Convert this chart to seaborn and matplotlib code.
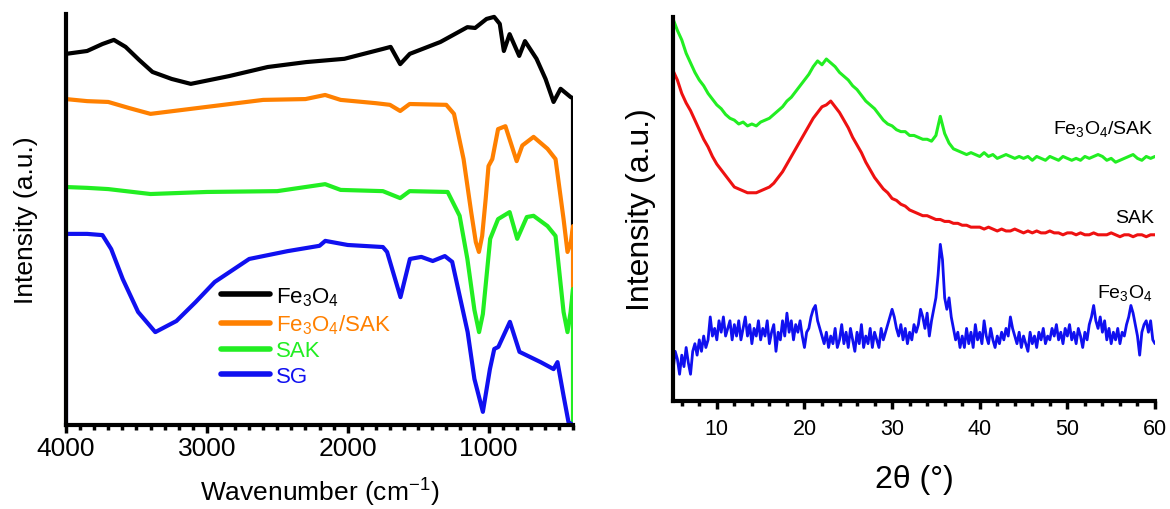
import numpy as np
import matplotlib
matplotlib.use('Agg')
import matplotlib.pyplot as plt
from matplotlib.ticker import MultipleLocator
import seaborn as sns

# ---- FTIR (left panel), wavenumber cm-1 vs offset intensity (a.u.) ----
fe3o4_wn = [4000, 3850, 3741, 3660, 3577, 3480, 3386, 3250, 3114, 2841, 2568, 2295, 2023, 1750, 1695,
            1627, 1559, 1341, 1150, 1095, 1014, 960, 920, 891, 850, 782, 741, 659, 595, 538, 488, 417, 400]
fe3o4_ir = [90.3, 91.0, 92.7, 93.7, 92.0, 88.8, 85.9, 84.2, 83.0, 84.9, 87.1, 88.3, 89.1, 91.5, 92.0,
            87.8, 90.3, 93.2, 96.8, 96.6, 98.8, 99.3, 97.6, 91.0, 95.1, 89.8, 93.4, 89.1, 84.2, 78.6, 81.8, 79.8, 79.5]

fesak_wn = [4000, 3850, 3700, 3550, 3400, 3000, 2600, 2300, 2160, 2050, 1800, 1700, 1627, 1560, 1300,
            1245, 1177, 1123, 1090, 1068, 1045, 1020, 1000, 973, 932, 880, 800, 760, 680, 581, 524, 467, 439, 415, 400]
fesak_ir = [79.3, 78.8, 78.6, 77.1, 75.7, 77.4, 79.1, 79.3, 80.3, 79.1, 78.3, 77.9, 76.4, 78.1, 77.9,
            75.7, 64.7, 51.8, 44.5, 42.1, 46.0, 55.0, 63.0, 64.7, 72.0, 72.7, 64.2, 68.0, 70.1, 67.2, 64.7, 50.1, 42.1, 44.5, 48.4]

sak_wn = [4000, 3850, 3700, 3400, 3000, 2500, 2160, 2050, 1750, 1627, 1560, 1290, 1205, 1150, 1100,
          1067, 1040, 988, 932, 850, 796, 728, 680, 581, 524, 467, 439, 417, 400]
sak_ir = [57.9, 57.7, 57.4, 56.2, 56.7, 56.9, 58.6, 57.2, 56.9, 55.2, 56.9, 56.7, 50.9, 40.4, 28.0,
          22.6, 27.0, 45.3, 50.1, 51.8, 45.3, 50.6, 50.9, 48.4, 46.0, 27.5, 22.6, 27.5, 33.1]

sg_wn = [4000, 3850, 3741, 3679, 3597, 3488, 3366, 3216, 3080, 2944, 2699, 2427, 2200, 2159, 2000, 1750,
         1720, 1625, 1558, 1477, 1396, 1310, 1258, 1148, 1100, 1040, 990, 959, 930, 848, 780, 630, 538,
         510, 467, 432, 400]
sg_ir = [46.5, 46.5, 46.2, 42.8, 35.5, 27.5, 22.6, 25.3, 29.9, 34.8, 40.4, 42.3, 43.6, 44.8, 43.8, 43.3,
         42.1, 31.1, 40.4, 40.9, 39.9, 41.1, 39.7, 22.6, 11.2, 3.2, 13.6, 18.5, 19.0, 25.1, 17.8, 15.3, 13.6,
         15.3, 7.1, 0.7, 0.0]

ir_names = ['Fe$_3$O$_4$', 'Fe$_3$O$_4$/SAK', 'SAK', 'SG']
ir_colors = ['#000000', '#ff8000', '#22ee22', '#1010f0']

# ---- XRD (right panel) ----
two_theta = np.arange(5.0, 60.25, 0.5)
xrd_fesak = [100, 97, 94.5, 91, 88.5, 86, 84, 82.5, 80.5, 79, 77.5, 76.5, 75, 74, 73.5, 72.5, 73, 72,
             72.5, 72, 73, 73.5, 74, 75, 76, 77, 78.5, 79.5, 81, 82.5, 84, 85.5, 87.5, 89, 88, 89.5,
             88.5, 87.5, 86, 85, 84, 82.5, 81.5, 80, 78.5, 77.5, 76.5, 75, 73.5, 72.5, 72, 71, 70.5,
             70.5, 69.5, 69.5, 69, 68.5, 68.5, 68, 69.5, 74.5, 70, 67.5, 66, 65.5, 65, 64.5, 65, 64.5,
             64, 65, 64, 64.5, 63.5, 64, 64.5, 64, 63.5, 64, 63.5, 64, 63, 64, 63.5, 63, 64, 63.5, 63,
             64, 63.5, 63, 63.5, 63, 64, 63.5, 64, 64.5, 64, 63, 63.5, 62.5, 63, 63.5, 64, 64.5, 63.5,
             63, 64, 63.5, 64]
xrd_sak = [86.5, 84, 80.5, 78, 76, 73.5, 71, 68.5, 66.5, 64, 62, 60.5, 59, 57.5, 56, 55.5, 55, 54.5,
           54.5, 54.5, 55, 55.5, 56, 57, 58.5, 60, 62, 64, 66, 68, 70, 72, 74, 75.5, 77, 77.5, 78.5,
           77, 75.5, 73.5, 71.5, 69, 67, 65, 62.5, 60.5, 58.5, 57, 55.5, 54.5, 53, 52.5, 51.5, 51, 50,
           49.5, 49, 48.5, 48.5, 48, 47.5, 47.5, 47, 47, 46.5, 46.5, 46, 46, 45.5, 45.5, 45.5, 45,
           45.5, 45, 44.5, 45, 44.5, 44.5, 45, 44.5, 44, 44.5, 44, 44.5, 44, 44, 44.5, 44, 44, 43.5,
           44, 44, 43.5, 44, 43.5, 43.5, 44, 43.5, 43.5, 43.5, 44, 43.5, 43, 43.5, 43.5, 43, 43.5,
           43.5, 43, 43.5, 43.5]
# Fe3O4 pattern is noisier, read on a finer 0.25 deg step
two_theta_fine = np.arange(5.0, 60.1, 0.25)
xrd_fe3o4 = [8, 13, 11, 7, 12, 9, 14, 10, 7, 13, 15, 12, 16, 13, 17, 14, 16, 22, 17, 19,
             16, 21, 18, 22, 17, 19, 21, 16, 20, 17, 21, 16, 19, 22, 17, 20, 15, 19, 17, 21,
             16, 19, 17, 21, 15, 18, 20, 13, 18, 16, 21, 17, 23, 18, 21, 16, 20, 18, 21, 17,
             14, 18, 19, 22, 24, 25, 21, 19, 17, 15, 18, 14, 17, 15, 19, 14, 16, 20, 15, 18,
             14, 19, 16, 13, 18, 15, 20, 14, 17, 15, 19, 14, 18, 16, 14, 19, 16, 18, 20, 22,
             24, 22, 19, 17, 20, 16, 19, 15, 18, 16, 20, 18, 20, 24, 22, 19, 23, 17, 21, 24,
             27, 33, 41, 37, 27, 24, 27, 22, 19, 16, 18, 14, 17, 14, 19, 15, 18, 14, 20, 16,
             18, 15, 21, 17, 15, 19, 16, 14, 17, 15, 18, 16, 19, 17, 22, 19, 17, 15, 18, 14,
             17, 15, 13, 18, 15, 17, 14, 18, 16, 19, 15, 17, 16, 19, 17, 20, 16, 18, 15, 19,
             17, 20, 16, 18, 15, 19, 17, 14, 18, 16, 20, 22, 25, 21, 19, 22, 18, 21, 16, 19,
             15, 18, 16, 19, 15, 18, 17, 20, 22, 25, 23, 20, 17, 12, 18, 20, 21, 18, 21, 16,
             15]

sns.set_style('ticks')
plt.rcParams['font.family'] = ['Liberation Sans', 'DejaVu Sans']
plt.rcParams['mathtext.fontset'] = 'custom'
plt.rcParams['mathtext.rm'] = 'Liberation Sans'
plt.rcParams['mathtext.default'] = 'regular'
plt.rcParams['text.color'] = 'black'
plt.rcParams['axes.labelcolor'] = 'black'

fig = plt.figure(figsize=(11.7, 5.1), dpi=100)
ax1 = fig.add_axes([66 / 1170, 84 / 510, 507 / 1170, 411 / 510])
ax2 = fig.add_axes([673 / 1170, 108 / 510, 482 / 1170, 384 / 510])

# left panel: each curve drops vertically at both ends to the next curve's level
ir_sets = [(fe3o4_wn, fe3o4_ir), (fesak_wn, fesak_ir), (sak_wn, sak_ir), (sg_wn, sg_ir)]
for i, (wn, vals) in enumerate(ir_sets):
    if i + 1 < len(ir_sets):
        lo_start, lo_end = ir_sets[i + 1][1][0], ir_sets[i + 1][1][-1]
    else:
        lo_start, lo_end = 0, 0
    xs = [wn[0]] + list(wn) + [wn[-1]]
    ys = [lo_start] + list(vals) + [lo_end]
    sns.lineplot(x=xs, y=ys, ax=ax1, sort=False, estimator=None, color=ir_colors[i],
                 lw=3, label=ir_names[i])

ax1.set_xlim(4000, 400)
ax1.set_ylim(0, 100)
ax1.set_xticks([4000, 3000, 2000, 1000])
ax1.xaxis.set_minor_locator(MultipleLocator(100))
ax1.set_yticks([])
ax1.set_xlabel('Wavenumber (cm$^{-1}$)', fontsize=19, labelpad=11)
ax1.set_ylabel('Intensity (a.u.)', fontsize=19, labelpad=20)
leg = ax1.legend(loc='upper left', bbox_to_anchor=(0.306, 0.34), frameon=False, fontsize=16,
                 handlelength=2.2, handletextpad=0.25, labelspacing=0.2, borderpad=0,
                 borderaxespad=0, labelcolor='linecolor')
for h in leg.legend_handles:
    h.set_linewidth(4)

# right panel: XRD
sns.lineplot(x=two_theta, y=xrd_fesak, ax=ax2, estimator=None, color='#22ee22', lw=2.2)
sns.lineplot(x=two_theta, y=xrd_sak, ax=ax2, estimator=None, color='#ee1111', lw=2.2)
sns.lineplot(x=two_theta_fine, y=xrd_fe3o4, ax=ax2, estimator=None, color='#1010f0', lw=2)

ax2.text(59.9, 70.1, 'Fe$_3$O$_4$/SAK', ha='right', va='baseline', fontsize=14)
ax2.text(59.9, 46.9, 'SAK', ha='right', va='baseline', fontsize=14)
ax2.text(59.7, 27.3, 'Fe$_3$O$_4$', ha='right', va='baseline', fontsize=14)
ax2.set_xlim(5, 60)
ax2.set_ylim(0, 100.5)
ax2.set_xticks([10, 20, 30, 40, 50, 60])
ax2.xaxis.set_minor_locator(MultipleLocator(2))
ax2.set_yticks([])
ax2.set_xlabel('2θ (°)', fontsize=23, labelpad=18)
ax2.set_ylabel('Intensity (a.u.)', fontsize=23, labelpad=12)

for ax, fs, pad in [(ax1, 19, 2), (ax2, 15.5, 6)]:
    sns.despine(ax=ax)
    for s in ['left', 'bottom']:
        ax.spines[s].set_linewidth(3)
        ax.spines[s].set_color('black')
    ax.tick_params(axis='x', which='major', direction='out', length=6, width=2.5,
                   labelsize=fs, pad=pad, colors='black')
    ax.tick_params(axis='x', which='minor', direction='out', length=3.5, width=2.5, colors='black')
    ax.set_facecolor('white')

plt.savefig('out.png', dpi=100)
